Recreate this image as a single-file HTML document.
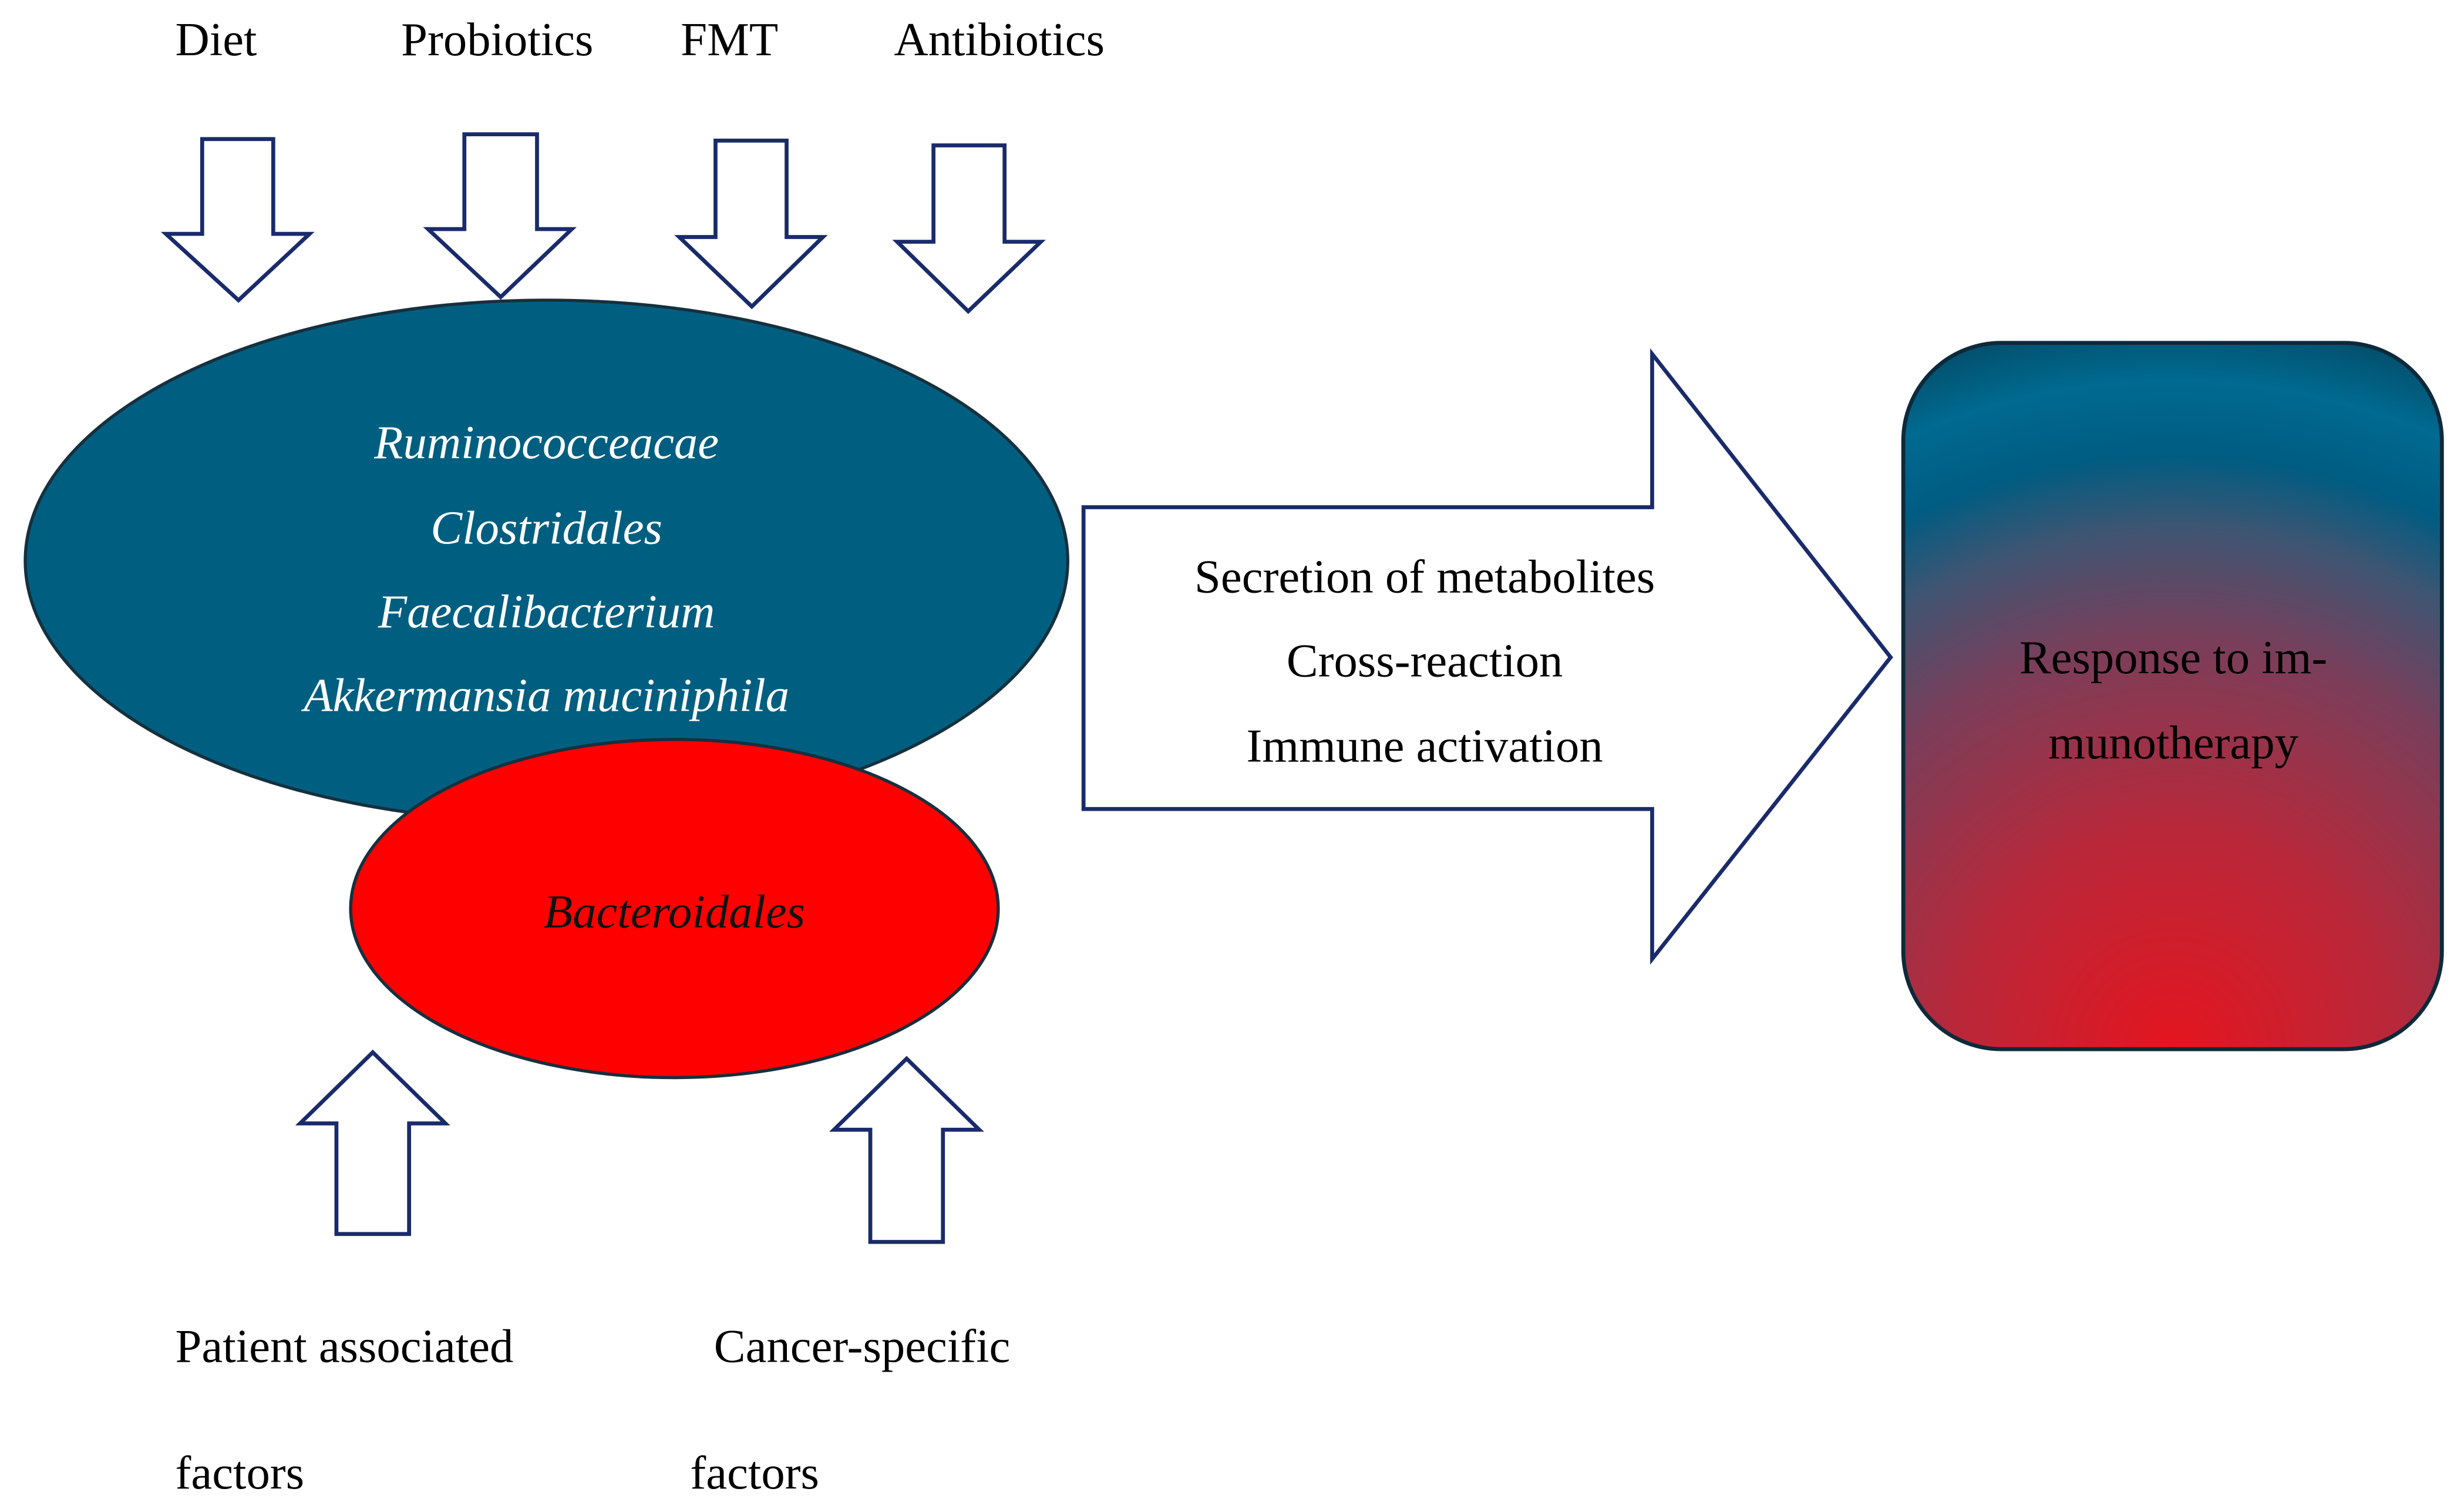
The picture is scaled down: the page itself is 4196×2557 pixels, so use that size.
<!DOCTYPE html>
<html><head><meta charset="utf-8"><style>html,body{margin:0;padding:0;background:#fff}svg{display:block}</style></head>
<body>
<svg width="4196" height="2557" viewBox="0 0 1560 950.6" preserveAspectRatio="none" xmlns="http://www.w3.org/2000/svg" font-family="'Liberation Serif', serif">
<defs>
<radialGradient id="g" gradientUnits="userSpaceOnUse" cx="1376" cy="664" r="470">
<stop offset="0" stop-color="#e4151f"/>
<stop offset="0.3" stop-color="#b8283a"/>
<stop offset="0.55" stop-color="#7a3e5a"/>
<stop offset="0.7" stop-color="#3f5572"/>
<stop offset="0.8" stop-color="#005c82"/>
<stop offset="0.9" stop-color="#006a90"/>
<stop offset="1" stop-color="#034a66"/>
</radialGradient>
</defs>
<g font-size="30" fill="#000">
<text x="111" y="35">Diet</text>
<text x="254" y="35">Probiotics</text>
<text x="431" y="35">FMT</text>
<text x="566" y="35">Antibiotics</text>
</g>
<g fill="#fff" stroke="#1a2b6b" stroke-width="2.5" stroke-linejoin="miter">
<polygon points="128,88 173,88 173,148 196,148 151,190 105,148 128,148"/>
<polygon points="294,85 340,85 340,145 362,145 317,188 271,145 294,145"/>
<polygon points="453,89 498,89 498,150 521,150 476,194 430,150 453,150"/>
<polygon points="591,92 636,92 636,153 659,153 613,197 568,153 591,153"/>
<polygon points="213,781 259,781 259,711 282,711 236,666 190,711 213,711"/>
<polygon points="551,786 597,786 597,715 620,715 574,670 528,715 551,715"/>
<polygon points="686,321 1046,321 1046,224 1197,416 1046,607 1046,512 686,512"/>
</g>
<ellipse cx="346" cy="355" rx="330" ry="165" fill="#005f80" stroke="#16303e" stroke-width="2"/>
<ellipse cx="427" cy="575" rx="205" ry="107" fill="#ff0000" stroke="#16303e" stroke-width="2"/>
<g font-size="30" font-style="italic" fill="#fff" text-anchor="middle">
<text x="346" y="290">Ruminococceacae</text>
<text x="346" y="344">Clostridales</text>
<text x="346" y="397">Faecalibacterium</text>
<text x="346" y="450">Akkermansia muciniphila</text>
</g>
<text x="427" y="587" font-size="30" font-style="italic" fill="#111" text-anchor="middle">Bacteroidales</text>
<g font-size="30" fill="#000" text-anchor="middle">
<text x="902" y="375">Secretion of metabolites</text>
<text x="902" y="428">Cross-reaction</text>
<text x="902" y="482">Immune activation</text>
</g>
<rect x="1205" y="217" width="341" height="447" rx="62" ry="62" fill="url(#g)" stroke="#0d2a3a" stroke-width="2.5"/>
<g font-size="30" fill="#000" text-anchor="middle">
<text x="1376" y="426">Response to im-</text>
<text x="1376" y="480">munotherapy</text>
</g>
<g font-size="30" fill="#000">
<text x="111" y="862">Patient associated</text>
<text x="111" y="942">factors</text>
<text x="452" y="862">Cancer-specific</text>
<text x="437" y="942">factors</text>
</g>
</svg>
</body></html>
